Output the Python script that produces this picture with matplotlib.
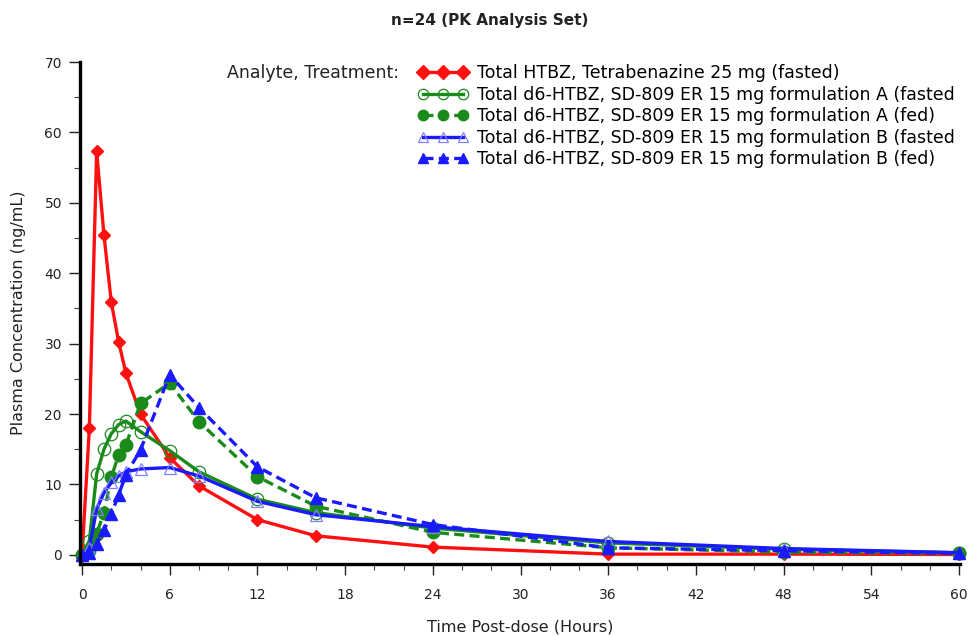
import matplotlib
matplotlib.use("Agg")
import matplotlib.pyplot as plt
from matplotlib.ticker import MultipleLocator

plt.rcParams['font.family'] = ['DejaVu Sans']

# ---- data ----
time_h = [0, 0.5, 1, 1.5, 2, 2.5, 3, 4, 6, 8, 12, 16, 24, 36, 48, 60]

tbz_fasted   = [0, 18.0, 57.3, 45.4, 35.9, 30.3, 25.8, 20.0, 13.8, 9.8, 5.0, 2.7, 1.1, 0.1, 0.1, 0.05]
a_fasted     = [0, 2.0, 11.5, 15.0, 17.2, 18.5, 19.0, 17.5, 14.8, 11.8, 7.9, 6.0, 3.8, 1.7, 0.8, 0.3]
a_fed        = [0, 0.5, 3.0, 6.0, 11.0, 14.2, 15.6, 21.5, 24.4, 18.9, 11.1, 6.9, 3.2, 1.0, 0.4, 0.2]
b_fasted     = [0, 1.0, 6.5, 8.8, 10.3, 11.2, 11.8, 12.2, 12.4, 11.2, 7.6, 5.7, 4.0, 1.9, 0.9, 0.3]
b_fed        = [0, 0.3, 1.5, 3.5, 5.8, 8.5, 11.4, 14.9, 25.6, 20.9, 12.5, 8.1, 4.3, 1.0, 0.6, 0.2]

labels = [
    "Total HTBZ, Tetrabenazine 25 mg (fasted)",
    "Total d6-HTBZ, SD-809 ER 15 mg formulation A (fasted",
    "Total d6-HTBZ, SD-809 ER 15 mg formulation A (fed)",
    "Total d6-HTBZ, SD-809 ER 15 mg formulation B (fasted",
    "Total d6-HTBZ, SD-809 ER 15 mg formulation B (fed)",
]
series = [tbz_fasted, a_fasted, a_fed, b_fasted, b_fed]

x_ticks = [0, 6, 12, 18, 24, 30, 36, 42, 48, 54, 60]
y_ticks = [0, 10, 20, 30, 40, 50, 60, 70]

# ---- styles ----
styles = [
    dict(color="#ff1010", ls="-", marker="D", ms=6.5, mfc="#ff1010", mec="#ff1010"),
    dict(color="#1a8a1a", ls="-", marker="o", ms=9, mfc="none", mec="#1a8a1a", mew=0.9),
    dict(color="#1a8a1a", ls=(0, (3, 1.6)), marker="o", ms=9, mfc="#1a8a1a", mec="#1a8a1a"),
    dict(color="#1a1aff", ls="-", marker="^", ms=9, mfc="none", mec="#8080ff", mew=0.9),
    dict(color="#1a1aff", ls=(0, (3, 1.6)), marker="^", ms=9, mfc="#1a1aff", mec="#1a1aff"),
]

fig = plt.figure(figsize=(9.69, 6.36), dpi=100)
ax = fig.add_axes([80/969, 1 - 564/636, 880/969, (564 - 62)/636])

handles = []
for vals, st, lab in zip(series, styles, labels):
    h, = ax.plot(time_h, vals, lw=2.4, label=lab, clip_on=False, **st)
    handles.append(h)

ax.set_xlim(-0.14, 60.07)
ax.set_ylim(-1.3, 70)
ax.set_xticks(x_ticks)
ax.set_yticks(y_ticks)
ax.xaxis.set_minor_locator(MultipleLocator(2))
ax.yaxis.set_minor_locator(MultipleLocator(5))

for s in ["top", "right"]:
    ax.spines[s].set_visible(False)
for s in ["left", "bottom"]:
    ax.spines[s].set_linewidth(2.4)
ax.spines["left"].set_bounds(-1.3, 70)

ax.tick_params(axis="both", which="major", length=8, width=1.0, labelsize=10, colors="#222222")
ax.tick_params(axis="both", which="minor", length=4, width=0.8, colors="#444444")
ax.tick_params(axis="x", pad=9)
ax.tick_params(axis="y", pad=5)

ax.set_xlabel("Time Post-dose (Hours)", fontsize=11.5, labelpad=13, color="#222222")
ax.set_ylabel("Plasma Concentration (ng/mL)", fontsize=11.5, labelpad=13, color="#222222")

leg = ax.legend(handles=handles, loc="upper left", bbox_to_anchor=(414/969, 1 - 61/636),
                bbox_transform=fig.transFigure, frameon=False, numpoints=3,
                handlelength=2.9, handletextpad=0.55, labelspacing=0.2,
                fontsize=12.5, borderaxespad=0, borderpad=0.2)
for h in leg.legend_handles:
    h.set_markersize(7.5)
fig.text(227/969, 1 - 73/636, "Analyte, Treatment:", fontsize=12.5, va="center", ha="left",
         color="#222222")

fig.text(490/969, 1 - 20/636, "n=24 (PK Analysis Set)", fontsize=11, fontweight="bold",
         ha="center", va="center", color="#222222")

fig.savefig("out.png", dpi=100)
